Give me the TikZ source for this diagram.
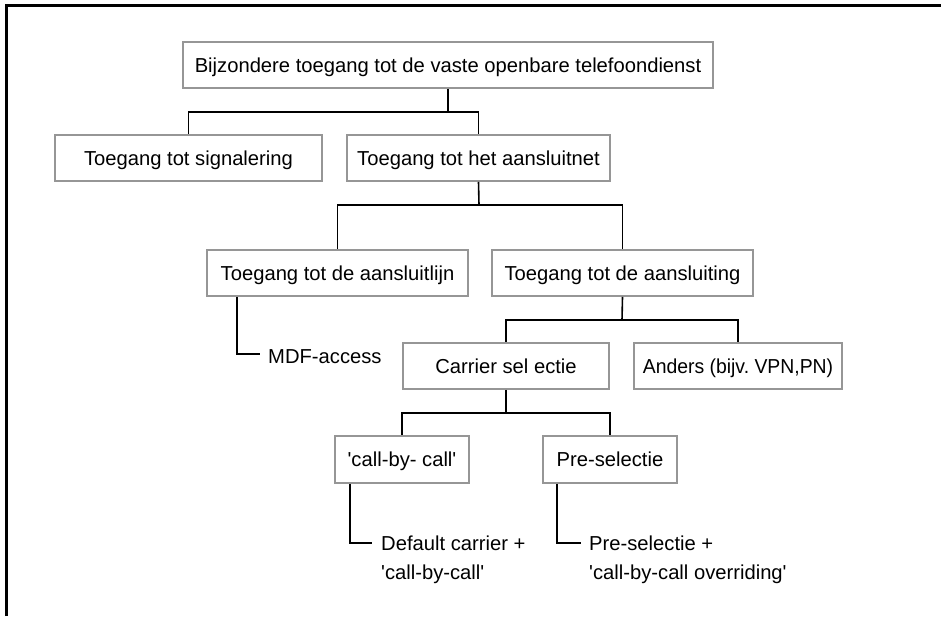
\documentclass[tikz,border=0pt]{standalone}
\usepackage{fontspec}
\setmainfont{Liberation Sans}
\definecolor{boxgray}{RGB}{150,150,150}
\newcommand{\sq}{\textquotesingle}
\begin{document}
\begin{tikzpicture}[x=1pt,y=-1pt,
  box/.style={draw=boxgray, line width=1.8pt, inner sep=0pt, minimum height=46pt,
    text height=14.5pt, text depth=0pt, font=\fontsize{20.2}{28.5}\selectfont},
  conn/.style={line width=1.6pt, black},
  lbl/.style={inner sep=0pt, align=left, font=\fontsize{20.2}{28.5}\selectfont},
  frame/.style={line width=3pt, black}]
\useasboundingbox (0,0) rectangle (941,616);
\draw[frame] (6,616) -- (6,5) -- (941,5);

\node[box, minimum width=530pt] (top) at (448,65) {Bijzondere toegang tot de vaste openbare telefoondienst};
\node[box, minimum width=267pt] (sig) at (188.5,158) {Toegang tot signalering};
\node[box, minimum width=263pt] (net) at (478.5,158) {Toegang tot het aansluitnet};
\node[box, minimum width=261pt] (lijn) at (337.5,273) {Toegang tot de aansluitlijn};
\node[box, minimum width=261pt] (sluiting) at (622.5,273) {Toegang tot de aansluiting};
\node[box, minimum width=206pt] (carrier) at (506,366) {Carrier sel ectie};
\node[box, minimum width=208pt] (anders) at (738,366) {\scalebox{0.96}[1]{Anders (bijv.\ VPN,PN)}};
\node[box, minimum width=134pt, minimum height=47pt] (cbc) at (402,459.5) {\sq call-by- call\sq};
\node[box, minimum width=134pt, minimum height=47pt] (pre) at (610,459.5) {Pre-selectie};

\node[lbl, anchor=base west] (mdf) at (268,363) {MDF-access};
\node[lbl, anchor=north west] (dc) at (381,536) {Default carrier +\\\sq call-by-call\sq};
\node[lbl, anchor=north west] (po) at (589,536) {Pre-selectie +\\\sq call-by-call overriding\sq};

\coordinate (j1) at (448,112);
\coordinate (j2) at (479,205);
\coordinate (j3) at (622,320);
\coordinate (j4) at (506,413);
\coordinate (e1) at (260,354);
\coordinate (e2) at (372,543);
\coordinate (e3) at (581,543);

\draw[conn] (top.south) -- (j1);
\draw[conn] (j1) -| (sig.north);
\draw[conn] (j1) -| (net.north);
\draw[conn] (net.south) -- (j2);
\draw[conn] (j2) -| (lijn.north);
\draw[conn] (j2) -| (sluiting.north);
\draw[conn] (sluiting.south) -- (j3);
\draw[conn] (j3) -| (carrier.north);
\draw[conn] (j3) -| (anders.north);
\draw[conn] (carrier.south) -- (j4);
\draw[conn] (j4) -| (cbc.north);
\draw[conn] (j4) -| (pre.north);
\draw[conn] ([xshift=31pt]lijn.south west) |- (e1);
\draw[conn] ([xshift=16pt]cbc.south west) |- (e2);
\draw[conn] ([xshift=15pt]pre.south west) |- (e3);
\end{tikzpicture}
\end{document}
